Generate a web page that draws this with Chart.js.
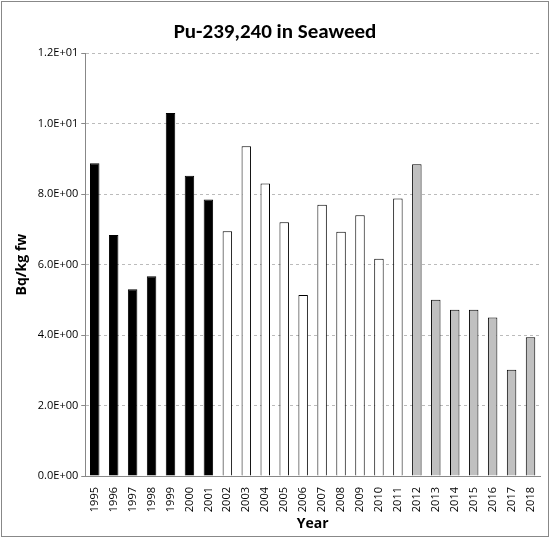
<!DOCTYPE html>
<html>
<head>
<meta charset="utf-8">
<script src="https://cdn.jsdelivr.net/npm/chart.js@4"></script>
<style>
  html, body { margin: 0; padding: 0; background: #fff; }
  #wrap { position: absolute; left: 1px; top: 1px; width: 546px; height: 534px; border: 1px solid #888; }
</style>
</head>
<body>
<div id="wrap"><canvas id="c"></canvas></div>
<script>
var years = ["1995","1996","1997","1998","1999","2000","2001","2002","2003","2004","2005","2006",
  "2007","2008","2009","2010","2011","2012","2013","2014","2015","2016","2017","2018"];
var values = [8.88, 6.84, 5.3, 5.67, 10.3, 8.52, 7.85, 6.95, 9.36, 8.3, 7.2, 5.14,
  7.7, 6.93, 7.4, 6.17, 7.88, 8.85, 5.0, 4.72, 4.72, 4.5, 3.02, 3.94];
var yTicks = [0, 2, 4, 6, 8, 10, 12];

function fill(y) {
  var n = Number(y);
  if (n <= 2001) return "#000";
  if (n <= 2011) return "#fff";
  return "#c0c0c0";
}

new Chart(document.getElementById("c"), {
  type: "bar",
  data: {
    labels: years,
    datasets: [{
      data: values,
      backgroundColor: years.map(fill),
      borderColor: "#000",
      borderWidth: 1,
      categoryPercentage: 1,
      barPercentage: 0.5
    }]
  },
  options: {
    responsive: true,
    maintainAspectRatio: false,
    animation: false,
    layout: { padding: { left: 8, right: 8, top: 4, bottom: 4 } },
    plugins: {
      legend: { display: false },
      tooltip: { enabled: false },
      title: {
        display: true,
        text: "Pu-239,240 in Seaweed",
        color: "#000",
        font: { family: "Calibri, Carlito, 'Open Sans', sans-serif", size: 21, weight: "bold" },
        padding: { top: 14, bottom: 8 }
      }
    },
    scales: {
      x: {
        grid: { display: false },
        border: { color: "#888" },
        ticks: {
          color: "#000", maxRotation: 90, minRotation: 90, autoSkip: false,
          font: { family: "'Open Sans', sans-serif", size: 11 }
        },
        title: {
          display: true, text: "Year", color: "#000",
          font: { family: "'Open Sans', sans-serif", size: 14, weight: "bold" }, padding: 0
        }
      },
      y: {
        min: 0, max: 12,
        afterBuildTicks: function (axis) { axis.ticks = yTicks.map(function (v) { return { value: v }; }); },
        grid: { color: "#bbb", drawTicks: true, tickLength: 4, tickColor: "#888" },
        border: { color: "#888", dash: [3, 3] },
        ticks: {
          color: "#000",
          font: { family: "'Open Sans', sans-serif", size: 11 },
          callback: function (v) { return Number(v).toExponential(1).toUpperCase().replace(/E\+(\d)$/, "E+0$1"); }
        },
        title: {
          display: true, text: "Bq/kg fw", color: "#000",
          font: { family: "'Open Sans', sans-serif", size: 14, weight: "bold" }
        }
      }
    }
  }
});
</script>
</body>
</html>
